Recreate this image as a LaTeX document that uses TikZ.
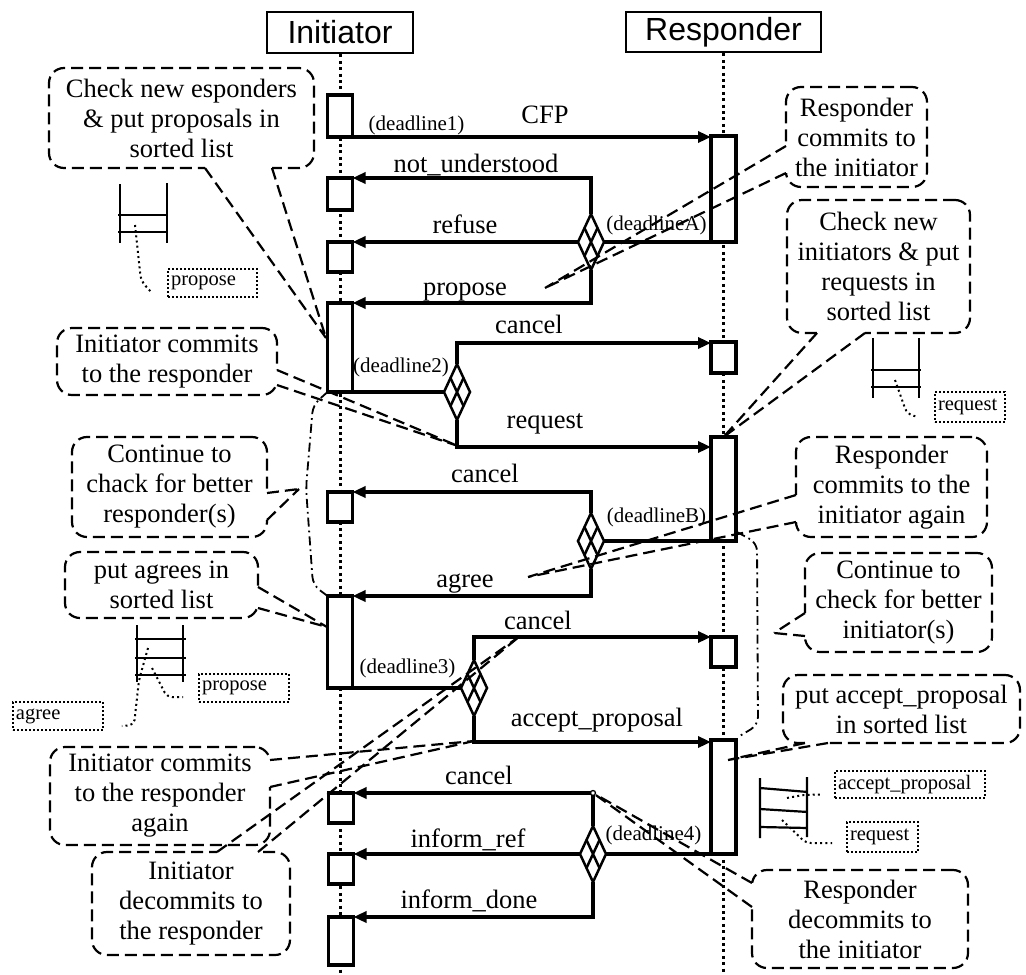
\documentclass[tikz,border=0pt]{standalone}
\usepackage{fontspec}
\setmainfont{Liberation Serif}
\newfontfamily\headfam{Liberation Sans}
\usetikzlibrary{arrows.meta,shapes.geometric,calc}
\newcommand\fsNote{\fontsize{26.5}{30}\selectfont}
\newcommand\fsMsg{\fontsize{26.5}{30}\selectfont}
\newcommand\fsDl{\fontsize{21}{24}\selectfont}
\newcommand\fsTag{\fontsize{20.5}{24}\selectfont}
\newcommand\fsHead{\headfam\fontsize{32}{36}\selectfont}
% callout tail: open the note border between two base points and run two dashed lines to the tip
\newcommand\noteTail[3]{%
  \draw[white, line width=4.5pt] (#1) -- (#2);
  \draw[noteline] (#1) -- (#3) (#2) -- (#3);}
% inner lattice of a decision diamond
\newcommand\latticeOf[1]{%
  \draw[latt] ($(#1.north)!.5!(#1.west)$) -- ($(#1.south)!.5!(#1.east)$)
              ($(#1.north)!.5!(#1.east)$) -- ($(#1.south)!.5!(#1.west)$);}
\begin{document}
\begin{tikzpicture}[x=1pt,y=-1pt,
  lifeline/.style={line width=3pt, dash pattern=on 3pt off 3.4pt},
  actbox/.style={draw, fill=white, line width=3.2pt, minimum width=25pt, inner sep=0pt, outer sep=0pt},
  msgarrow/.style={line width=3.2pt, -{Triangle[length=13pt,width=11pt]}},
  msgline/.style={line width=3.2pt},
  dbox/.style={shape=diamond, draw, fill=white, line width=2.5pt, minimum width=26pt, minimum height=56pt, inner sep=0pt, outer sep=0pt},
  latt/.style={line width=2.5pt},
  notebox/.style={draw, rounded corners=15pt, line width=2.2pt, dash pattern=on 12pt off 6pt, align=center, font=\fsNote, inner sep=0pt},
  noteline/.style={line width=2.2pt, dash pattern=on 12pt off 6pt},
  msglabel/.style={font=\fsMsg, anchor=base, inner sep=0pt},
  dllabel/.style={font=\fsDl, anchor=base, inner sep=0pt},
  tagbox/.style={draw, line width=1.8pt, dash pattern=on 1.8pt off 2.2pt, font=\fsTag, inner xsep=3pt, inner ysep=0pt, align=left},
  tagptr/.style={line width=2pt, dash pattern=on 2pt off 3.2pt},
  listline/.style={line width=2.2pt},
  bracketline/.style={line width=1.8pt, dash pattern=on 9pt off 4pt on 1.8pt off 4pt},
  headbox/.style={draw, line width=2.8pt, font=\fsHead, inner sep=0pt}
]
\useasboundingbox (0,0) rectangle (1026,975);
\fill[white] (0,0) rectangle (1026,975);

% ---------- lifelines ----------
\node[headbox, minimum width=146pt, minimum height=41pt] (hI) at (340,32.5) {Initiator};
\node[headbox, minimum width=195pt, minimum height=40pt] (hR) at (723.5,32) {Responder};
\coordinate (eI) at (340,975);
\coordinate (eR) at (723.5,975);
\draw[lifeline] (hI.south) -- (eI);
\draw[lifeline] (hR.south) -- (eR);

% ---------- activations ----------
\node[actbox, minimum height=42pt] (i1) at (340,116) {};
\node[actbox, minimum height=32pt] (i2) at (340,194) {};
\node[actbox, minimum height=30pt] (i3) at (340,257) {};
\node[actbox, minimum height=89pt] (i4) at (340,347.5) {};
\node[actbox, minimum height=30pt] (i5) at (340,507) {};
\node[actbox, minimum height=92pt] (i6) at (340,642) {};
\node[actbox, minimum height=30pt] (i7) at (341,808) {};
\node[actbox, minimum height=30pt] (i8) at (341,869) {};
\node[actbox, minimum height=48pt] (i9) at (341,941) {};

\node[actbox, minimum height=106pt] (r1) at (723.5,189) {};
\node[actbox, minimum height=31pt] (r2) at (723.5,357.5) {};
\node[actbox, minimum height=104pt] (r3) at (723.5,489) {};
\node[actbox, minimum height=30pt] (r4) at (723.5,652) {};
\node[actbox, minimum height=114pt] (r5) at (723.5,797) {};

% ---------- decision diamonds ----------
\node[dbox] (dA) at (591,242) {};
\node[dbox] (d2) at (457,392) {};
\node[dbox] (dB) at (591,541) {};
\node[dbox] (d3) at (474,688) {};
\node[dbox] (d4) at (593,854) {};

% ---------- messages ----------
\draw[msgarrow] (i1.south east) -- (i1.south east -| r1.west);
\draw[msgarrow] (dA.north) |- (i2.north east);
\draw[msgarrow] (dA.west) -- (i3.north east);
\draw[msgarrow] (dA.south) |- (i4.north east);
\draw[msgline] (dA.east) -- (r1.south west);

\draw[msgline] (i4.south east) -- (d2.west);
\draw[msgarrow] (d2.north) |- ($(r2.north west)+(0,1)$);
\draw[msgarrow] (d2.south) |- ($(r3.north west)+(0,10)$);

\draw[msgarrow] (dB.north) |- (i5.north east);
\draw[msgarrow] (dB.south) |- (i6.north east);
\draw[msgline] (dB.east) -- (r3.south west);

\draw[msgline] (i6.south east) -- (d3.west);
\draw[msgarrow] (d3.north) |- (r4.north west);
\draw[msgarrow] (d3.south) |- ($(r5.north west)+(0,2)$);

\draw[msgarrow] (d4.north) |- (i7.north east);
\draw[msgarrow] (d4.west) -- (i8.north east);
\draw[msgarrow] (d4.south) |- (i9.north east);
\draw[msgline] (d4.east) -- (r5.south west);

\foreach \d in {dA,d2,dB,d3,d4} {\latticeOf{\d}}
\node[circle, draw, fill=white, line width=1.3pt, minimum size=5pt, inner sep=0pt] (c4) at (d4.north |- i7.north) {};

% ---------- message labels ----------
\node[msglabel] (lCFP) at (545,123) {CFP};
\node[msglabel] (lnu)  at (476,172) {not\_understood};
\node[msglabel] (lref) at (465,233) {refuse};
\node[msglabel] (lpro) at (465,295) {propose};
\node[msglabel] (lc1)  at (529,333) {cancel};
\node[msglabel] (lreq) at (545,428) {request};
\node[msglabel] (lc2)  at (485,482) {cancel};
\node[msglabel] (lagr) at (465,587) {agree};
\node[msglabel] (lc3)  at (538,629) {cancel};
\node[msglabel] (lacc) at (597,726) {accept\_proposal};
\node[msglabel] (lc4)  at (479,784) {cancel};
\node[msglabel] (linr) at (468,847) {inform\_ref};
\node[msglabel] (lind) at (469,908) {inform\_done};

\node[dllabel] (dl1) at (416.5,130) {(deadline1)};
\node[dllabel] (dlA) at (656.5,230) {(deadlineA)};
\node[dllabel] (dl2) at (401,372) {(deadline2)};
\node[dllabel] (dlB) at (656.5,522) {(deadlineB)};
\node[dllabel] (dl3) at (407.5,673) {(deadline3)};
\node[dllabel] (dl4) at (653.5,840) {(deadline4)};

% ---------- commitment brackets ----------
\coordinate (bL) at (299,489);
\coordinate (bR) at (774,633);
\draw[bracketline, rounded corners=8pt] (i4.south west) -- (313,405) -- (306,488) -- (313,585) -- (i6.north west);
\draw[bracketline, rounded corners=8pt] ($(r3.south east)+(1,-9)$) -- (757,543) -- (758,725) -- ($(r5.north east)+(2,-3)$);

% ---------- sorted-list sketches ----------
\draw[listline] (120,184) -- (120,243) (167,183) -- (167,243) (118,215) -- (168,215) (118,232) -- (168,232);
\node[tagbox, text width=83pt, minimum height=28pt] (tp1) at (212.5,283) {propose};
\draw[tagptr, rounded corners=6pt] (135,225) -- (141,281) -- ($(tp1.west)+(-15,10)$);

\draw[listline] (873,338) -- (873,398) (919,338) -- (919,398) (871,370) -- (921,370) (871,387) -- (921,387);
\node[tagbox, text width=64pt, minimum height=30pt] (tr1) at (970,407) {request};
\draw[tagptr, rounded corners=6pt] (895,380) -- (907,414) -- ($(tr1.west)+(-16,10)$);

\draw[listline] (137,625) -- (137,682) (183,625) -- (183,682) (135,639) -- (186,639) (135,658) -- (186,658) (135,675) -- (186,675);
\node[tagbox, text width=84pt, minimum height=28pt] (tag) at (58,716) {agree};
\node[tagbox, text width=84pt, minimum height=28pt] (tp2) at (244,688) {propose};
\draw[tagptr, rounded corners=5pt] (148,648) -- (139,680) -- (134,725) -- ($(tag.east)+(18,10)$);
\draw[tagptr, rounded corners=5pt] (152,668) -- (167,697) -- ($(tp2.west)+(-15,9)$);

\draw[listline] (760,778) -- (760,838) (807,777) -- (807,837) (760,788) -- (808,792) (760,809) -- (808,812) (760,827) -- (808,828);
\node[tagbox, text width=144pt, minimum height=27pt] (tacc) at (910,784.5) {accept\_proposal};
\node[tagbox, text width=65pt, minimum height=30pt] (tr2) at (882.5,837) {request};
\draw[tagptr, rounded corners=4pt] (787,798) -- (803,795) -- ($(tacc.west)+(-14,10)$);
\draw[tagptr, rounded corners=5pt] (782,820) -- (806,843) -- ($(tr2.west)+(-14,6)$);

% ---------- notes ----------
\node[notebox, minimum width=265pt, minimum height=100pt] (n1) at (181.5,118) {Check new esponders\\\& put proposals in\\sorted list};
\node[notebox, minimum width=141pt, minimum height=100pt] (n2) at (856.5,137) {Responder\\commits to\\the initiator};
\node[notebox, minimum width=183pt, minimum height=133pt] (n3) at (878.5,266.5) {Check new\\initiators \& put\\requests in\\sorted list};
\node[notebox, minimum width=220pt, minimum height=67pt] (n4) at (167,361.5) {Initiator commits\\to the responder};
\node[notebox, minimum width=195pt, minimum height=100pt] (n5) at (169.5,487) {Continue to\\chack for better\\responder(s)};
\node[notebox, minimum width=193pt, minimum height=66pt] (n6) at (161.5,585) {put agrees in\\sorted list};
\node[notebox, minimum width=191pt, minimum height=100pt] (n7) at (891.5,487) {Responder\\commits to the\\initiator again};
\node[notebox, minimum width=187pt, minimum height=99pt] (n8) at (898.5,602.5) {Continue to\\check for better\\initiator(s)};
\node[notebox, minimum width=237pt, minimum height=68pt] (n9) at (901.5,709) {put accept\_proposal\\in sorted list};
\node[notebox, minimum width=220pt, minimum height=98pt] (n10) at (160,796) {Initiator commits\\to the responder\\again};
\node[notebox, minimum width=198pt, minimum height=103pt] (n11) at (191,903.5) {Initiator\\decommits to\\the responder};
\node[notebox, minimum width=216pt, minimum height=98pt] (n12) at (860,919) {Responder\\decommits to\\the initiator};

% ---------- note tails ----------
\coordinate (t1a) at (205,168);   \coordinate (t1b) at (272,168);   \coordinate (p1) at (326,338);
\coordinate (t2a) at (786,146);   \coordinate (t2b) at (786,173);   \coordinate (p2) at (545,288);
\coordinate (t3a) at (817,333);   \coordinate (t3b) at (865,333);
\coordinate (t4a) at (277,370);   \coordinate (t4b) at (277,385);   \coordinate (p4) at (458,446);
\coordinate (t5a) at (267,493);   \coordinate (t5b) at (267,520);
\coordinate (t6a) at (258,587);   \coordinate (t6b) at (258,608);   \coordinate (p6) at (327,627);
\coordinate (t7a) at (796,495);   \coordinate (t7b) at (796,522);   \coordinate (p7) at (528,577);
\coordinate (t8a) at (805,613);   \coordinate (t8b) at (805,636);
\coordinate (t9a) at (805,743);   \coordinate (t9b) at (828,743);   \coordinate (p9) at (728,760);
\coordinate (t10a) at (270,760);  \coordinate (t10b) at (270,787);  \coordinate (p10) at (474,741);
\coordinate (t11a) at (217,852);  \coordinate (t11b) at (258,852);  \coordinate (p11) at (520,636);
\coordinate (t12a) at (752,883);  \coordinate (t12b) at (752,907);

\noteTail{t1a}{t1b}{p1}
\noteTail{t2a}{t2b}{p2}
\noteTail{t3a}{t3b}{r3.north}
\noteTail{t4a}{t4b}{p4}
\noteTail{t5a}{t5b}{bL}
\noteTail{t6a}{t6b}{p6}
\noteTail{t7a}{t7b}{p7}
\noteTail{t8a}{t8b}{bR}
\noteTail{t9a}{t9b}{p9}
\noteTail{t10a}{t10b}{p10}
\noteTail{t11a}{t11b}{p11}
\noteTail{t12a}{t12b}{c4}
\end{tikzpicture}
\end{document}
